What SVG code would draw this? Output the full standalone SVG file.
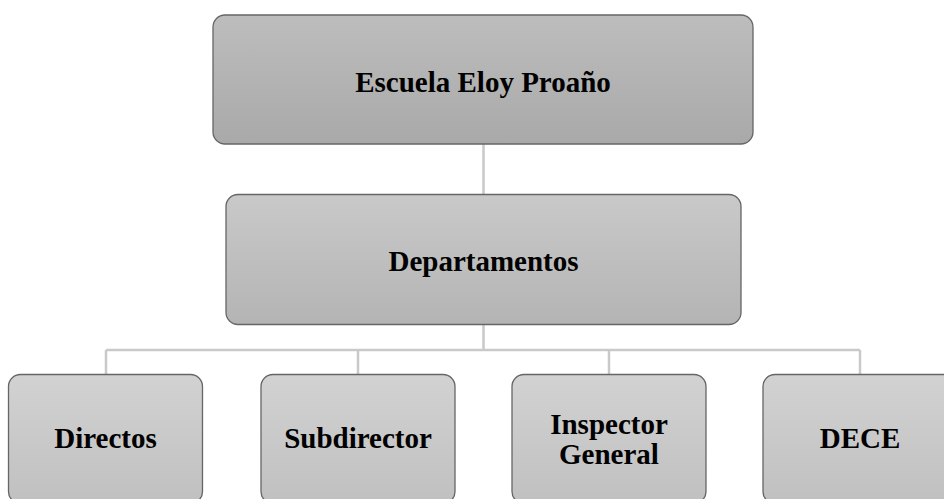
<svg xmlns="http://www.w3.org/2000/svg" width="944" height="499" viewBox="0 0 944 499">
<style>
.box{stroke:#666666;stroke-width:1.3}
.lbl{font-family:"Liberation Serif","Times New Roman",serif;font-weight:bold;font-size:29px;fill:#000000;text-anchor:middle}
.conn{stroke:#c9c9c9;stroke-width:2.5;fill:none}
</style>
<defs>
<linearGradient id="g1" x1="0" y1="0" x2="0" y2="1">
<stop offset="0" stop-color="#bdbdbd"/>
<stop offset="1" stop-color="#a9a9a9"/>
</linearGradient>
<linearGradient id="g2" x1="0" y1="0" x2="0" y2="1">
<stop offset="0" stop-color="#c9c9c9"/>
<stop offset="1" stop-color="#b4b4b4"/>
</linearGradient>
<linearGradient id="g3" x1="0" y1="0" x2="0" y2="1">
<stop offset="0" stop-color="#d2d2d2"/>
<stop offset="1" stop-color="#c0c0c0"/>
</linearGradient>
</defs>
<rect width="944" height="499" fill="#ffffff"/>
<g id="connectors">
<line class="conn" x1="483.5" y1="143" x2="483.5" y2="195"/>
<line class="conn" x1="483.5" y1="324" x2="483.5" y2="350"/>
<line class="conn" x1="106" y1="350" x2="860" y2="350"/>
<line class="conn" x1="106" y1="350" x2="106" y2="374"/>
<line class="conn" x1="358" y1="350" x2="358" y2="374"/>
<line class="conn" x1="609" y1="350" x2="609" y2="374"/>
<line class="conn" x1="860" y1="350" x2="860" y2="374"/>
</g>
<g id="escuela">
<rect class="box" x="213" y="15" width="540" height="129" rx="12" fill="url(#g1)"/>
<text class="lbl" x="483" y="92">Escuela Eloy Proaño</text>
</g>
<g id="departamentos">
<rect class="box" x="226" y="194.5" width="515" height="130" rx="12" fill="url(#g2)"/>
<text class="lbl" x="483.5" y="271">Departamentos</text>
</g>
<g id="directos">
<rect class="box" x="8.5" y="374.5" width="194" height="129" rx="12" fill="url(#g3)"/>
<text class="lbl" x="105.5" y="448">Directos</text>
</g>
<g id="subdirector">
<rect class="box" x="261" y="374.5" width="194" height="129" rx="12" fill="url(#g3)"/>
<text class="lbl" x="358" y="448">Subdirector</text>
</g>
<g id="inspector">
<rect class="box" x="512" y="374.5" width="194" height="129" rx="12" fill="url(#g3)"/>
<text class="lbl" x="609" y="434">Inspector</text>
<text class="lbl" x="609" y="464">General</text>
</g>
<g id="dece">
<rect class="box" x="763" y="374.5" width="194" height="129" rx="12" fill="url(#g3)"/>
<text class="lbl" x="860" y="448">DECE</text>
</g>
</svg>
